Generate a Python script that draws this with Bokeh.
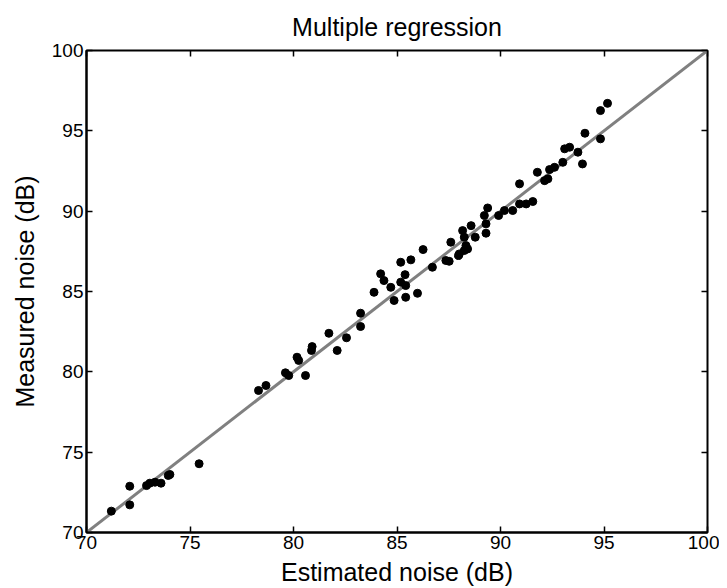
from bokeh.plotting import figure
from bokeh.models import LinearAxis, Range1d, FixedTicker, Title
from bokeh.embed import file_html
from bokeh.resources import INLINE

estimated = [71.20, 72.09, 72.09, 72.90, 73.06, 73.31, 73.60, 73.95, 74.03, 75.44,
             78.31, 78.67, 79.61, 79.77, 80.17, 80.25, 80.58, 80.90, 80.87,
             81.71, 82.11, 82.56, 83.24, 83.24, 83.89, 84.21, 84.37, 84.70, 84.86,
             85.18, 85.67, 85.18, 85.39, 85.42, 85.42, 85.99, 86.26, 86.71,
             87.36, 87.52, 87.60, 87.97, 88.17, 88.33, 88.41, 88.25, 88.58, 88.78, 89.30,
             88.01, 88.25, 89.38, 89.22, 89.30, 89.91, 90.19, 90.59, 90.92, 91.24, 91.56,
             90.92, 91.78, 92.13, 92.29, 92.37, 92.61, 93.01, 93.10, 93.34, 93.74, 93.96,
             94.08, 94.83, 94.83, 95.17]
measured = [71.33, 72.88, 71.72, 72.92, 73.07, 73.13, 73.07, 73.55, 73.61, 74.28,
            78.84, 79.15, 79.94, 79.77, 80.91, 80.71, 79.77, 81.57, 81.33,
            82.40, 81.33, 82.12, 83.65, 82.82, 84.95, 86.10, 85.68, 85.26, 84.44,
            86.82, 86.97, 85.58, 86.05, 85.37, 84.64, 84.89, 87.61, 86.51,
            86.93, 86.88, 88.07, 87.24, 88.79, 87.86, 87.65, 87.55, 89.10, 88.38, 88.63,
            87.34, 88.38, 90.20, 89.73, 89.21, 89.73, 90.04, 90.04, 90.45, 90.45, 90.60,
            91.70, 92.42, 91.90, 92.01, 92.59, 92.73, 93.04, 93.88, 93.98, 93.67, 92.94,
            94.85, 94.50, 96.26, 96.71]
line_x = [70, 100]
line_y = [70, 100]
ticks_x = [70, 75, 80, 85, 90, 95, 100]
ticks_y = [70, 75, 80, 85, 90, 95, 100]

FONT = "Liberation Sans"

p = figure(width=719, height=588, output_backend="svg", toolbar_location=None,
           x_range=Range1d(70, 100), y_range=Range1d(70, 100),
           min_border_left=86, min_border_right=12, min_border_top=50, min_border_bottom=56,
           x_axis_label="Estimated noise (dB)", y_axis_label="Measured noise (dB)")
p.title = Title(text="Multiple regression", align="center", text_font=FONT,
                text_font_size="25px", text_font_style="normal", text_color="black",
                standoff=20)
p.grid.visible = False
p.outline_line_color = "black"
p.outline_line_width = 2

for ax in [p.xaxis[0], p.yaxis[0]]:
    ax.major_tick_in = 6
    ax.major_tick_out = 0
    ax.minor_tick_line_color = None
    ax.axis_line_width = 2
    ax.major_tick_line_width = 1.5
    ax.major_label_text_font = FONT
    ax.major_label_text_font_size = "19px"
    ax.major_label_text_color = "black"
    ax.axis_label_text_font = FONT
    ax.axis_label_text_font_size = "25px"
    ax.axis_label_text_font_style = "normal"
    ax.axis_label_text_color = "black"
    ax.major_label_standoff = 3
p.xaxis[0].axis_label_standoff = 6
p.yaxis[0].axis_label_standoff = 10
p.xaxis[0].ticker = FixedTicker(ticks=ticks_x)
p.yaxis[0].ticker = FixedTicker(ticks=ticks_y)

blank_x = {t: "" for t in ticks_x}
blank_y = {t: "" for t in ticks_y}
top = LinearAxis(ticker=FixedTicker(ticks=ticks_x), major_tick_in=6, major_tick_out=0,
                 minor_tick_line_color=None, major_label_overrides=blank_x,
                 axis_line_color=None, major_tick_line_width=1.5, major_label_standoff=0)
right = LinearAxis(ticker=FixedTicker(ticks=ticks_y), major_tick_in=6, major_tick_out=0,
                   minor_tick_line_color=None, major_label_overrides=blank_y,
                   axis_line_color=None, major_tick_line_width=1.5, major_label_standoff=0)
p.add_layout(top, "above")
p.add_layout(right, "right")

p.line(line_x, line_y, line_color="#808080", line_width=3)
p.scatter(estimated, measured, size=8, fill_color="black", line_color="black")

open("out.html", "w").write(file_html(p, INLINE))
